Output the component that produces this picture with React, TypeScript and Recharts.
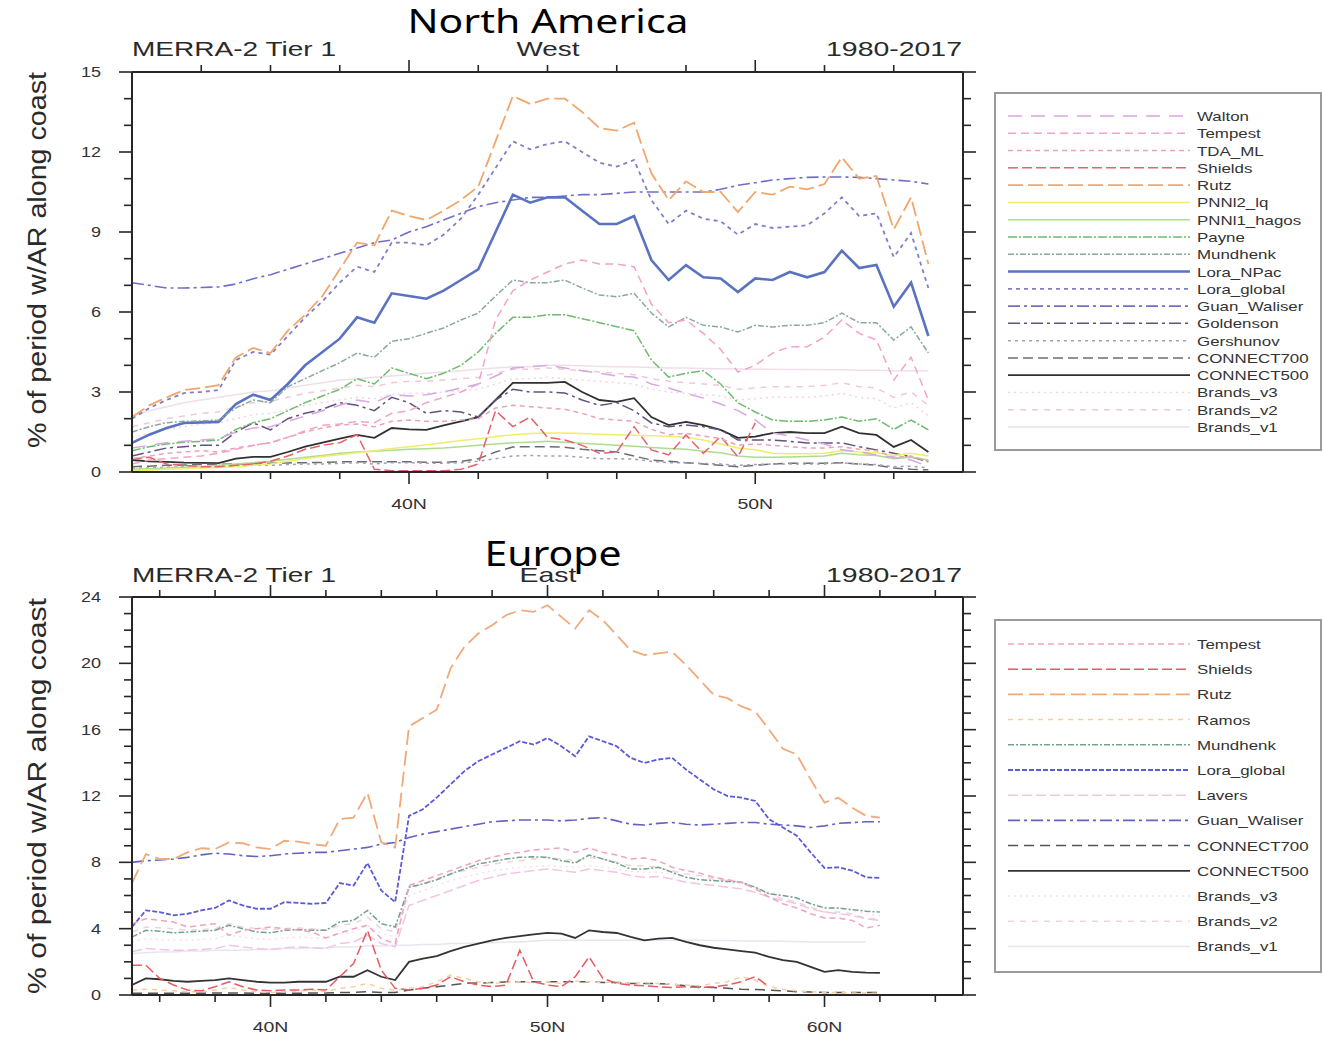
import React from "react";
import { LineChart, Line, XAxis, YAxis } from "recharts";

// North America (west coast): latitude and % of period with an AR, per algorithm
const naLat = [32, 32.5, 33, 33.5, 34, 34.5, 35, 35.5, 36, 36.5, 37, 37.5, 38, 38.5, 39, 39.5, 40, 40.5, 41, 41.5, 42, 42.5, 43, 43.5, 44, 44.5, 45, 45.5, 46, 46.5, 47, 47.5, 48, 48.5, 49, 49.5, 50, 50.5, 51, 51.5, 52, 52.5, 53, 53.5, 54, 54.5, 55];
const naXTicks = [34, 36, 38, 40, 42, 44, 46, 48, 50, 52, 54];
const naYTicks = [0, 1, 2, 3, 4, 5, 6, 7, 8, 9, 10, 11, 12, 13, 14, 15];

const naWalton = [0.9, 1.0, 1.1, 1.15, 1.2, 1.25, 1.5, 1.65, 1.7, 1.9, 2.1, 2.3, 2.5, 2.7, 2.6, 2.9, 2.85, 2.9, 3.0, 3.15, 3.3, 3.6, 3.9, 3.95, 4.0, 3.9, 3.8, 3.7, 3.6, 3.56, 3.3, 3.15, 2.95, 2.77, 2.55, 2.3, 1.95, 1.46, 1.35, 1.2, 1.05, 0.83, 0.75, 0.64, 0.55, 0.45, 0.2];
const naTempest = [0.3, 0.45, 0.5, 0.55, 0.6, 0.7, 0.85, 1.0, 1.1, 1.3, 1.55, 1.75, 1.8, 1.9, 1.85, 2.2, 2.3, 2.6, 2.8, 3.0, 3.3, 5.7, 6.8, 7.2, 7.5, 7.8, 7.95, 7.8, 7.8, 7.7, 6.3, 5.6, 5.7, 5.2, 4.6, 3.75, 4.0, 4.46, 4.7, 4.7, 5.06, 5.7, 5.2, 4.95, 3.45, 4.3, 2.7];
const naTdaMl = [0.5, 0.6, 0.7, 0.75, 0.8, 0.75, 0.9, 1.0, 1.1, 1.3, 1.5, 1.65, 1.76, 1.8, 1.7, 1.9, 1.95, 1.9, 1.9, 1.95, 2.0, 2.4, 2.5, 2.45, 2.4, 2.35, 2.2, 2.0, 1.95, 1.9, 1.6, 1.4, 1.45, 1.35, 1.25, 1.0, 1.05, 1.0, 0.95, 0.9, 0.9, 0.95, 0.85, 0.8, 0.55, 0.6, 0.4];
const naShields = [0.5, 0.55, 0.3, 0.25, 0.2, 0.2, 0.25, 0.3, 0.4, 0.6, 0.85, 1.0, 1.1, 1.4, 0.1, 0.05, 0.05, 0.05, 0.05, 0.1, 0.3, 2.3, 1.7, 2.06, 1.3, 1.2, 1.0, 0.7, 0.75, 1.7, 0.83, 0.64, 1.39, 0.7, 1.33, 0.57, 1.84, null, null, null, null, null, null, null, null, null, null];
const naRutz = [2.06, 2.5, 2.8, 3.07, 3.15, 3.26, 4.3, 4.65, 4.46, 5.3, 5.9, 6.6, 7.6, 8.6, 8.5, 9.8, 9.6, 9.45, 9.8, 10.2, 10.7, 12.4, 14.1, 13.8, 14.0, 14.0, 13.5, 12.9, 12.8, 13.1, 11.2, 10.2, 10.9, 10.5, 10.5, 9.75, 10.5, 10.4, 10.7, 10.6, 10.8, 11.8, 11.0, 11.1, 9.1, 10.3, 7.8];
const naPnnl2 = [0.05, 0.07, 0.1, 0.12, 0.15, 0.17, 0.2, 0.25, 0.3, 0.4, 0.5, 0.58, 0.65, 0.72, 0.8, 0.88, 0.95, 1.02, 1.1, 1.18, 1.25, 1.33, 1.4, 1.44, 1.46, 1.46, 1.44, 1.42, 1.4, 1.38, 1.36, 1.34, 1.3, 1.2, 1.05, 0.9, 0.83, 0.7, 0.68, 0.68, 0.7, 0.8, 0.75, 0.72, 0.62, 0.7, 0.6];
const naPnnl1 = [0.1, 0.12, 0.15, 0.18, 0.2, 0.25, 0.3, 0.35, 0.4, 0.48, 0.55, 0.62, 0.7, 0.75, 0.78, 0.82, 0.85, 0.87, 0.9, 0.95, 1.0, 1.05, 1.1, 1.12, 1.15, 1.12, 1.08, 1.04, 1.0, 0.97, 0.92, 0.88, 0.85, 0.78, 0.72, 0.6, 0.55, 0.55, 0.56, 0.58, 0.6, 0.7, 0.65, 0.62, 0.5, 0.55, 0.45];
const naPayne = [0.8, 0.95, 1.05, 1.12, 1.15, 1.2, 1.6, 1.85, 2.0, 2.3, 2.6, 2.85, 3.1, 3.5, 3.3, 3.9, 3.7, 3.5, 3.7, 4.0, 4.5, 5.2, 5.8, 5.8, 5.9, 5.9, 5.75, 5.6, 5.45, 5.3, 4.2, 3.56, 3.7, 3.8, 3.3, 2.6, 2.25, 1.95, 1.9, 1.9, 1.95, 2.06, 1.9, 2.0, 1.6, 1.95, 1.58];
const naMundhenk = [1.5, 1.7, 1.85, 1.9, 1.92, 1.95, 2.4, 2.7, 2.6, 3.2, 3.5, 3.8, 4.1, 4.46, 4.3, 4.9, 5.0, 5.2, 5.4, 5.7, 5.96, 6.6, 7.2, 7.1, 7.1, 7.2, 6.9, 6.64, 6.57, 6.7, 5.96, 5.44, 5.8, 5.5, 5.44, 5.25, 5.5, 5.44, 5.5, 5.5, 5.6, 5.96, 5.6, 5.6, 4.95, 5.44, 4.46];
const naLoraNPac = [1.09, 1.4, 1.65, 1.84, 1.86, 1.88, 2.55, 2.9, 2.7, 3.3, 4.0, 4.5, 5.0, 5.8, 5.6, 6.7, 6.6, 6.5, 6.8, 7.2, 7.6, 9.0, 10.4, 10.1, 10.3, 10.3, 9.8, 9.3, 9.3, 9.6, 7.95, 7.2, 7.76, 7.3, 7.26, 6.75, 7.26, 7.2, 7.5, 7.3, 7.5, 8.3, 7.65, 7.76, 6.2, 7.1, 5.1];
const naLoraGlobal = [2.0, 2.4, 2.7, 2.96, 3.0, 3.07, 4.2, 4.5, 4.4, 5.1, 5.8, 6.4, 7.1, 7.7, 7.5, 8.6, 8.6, 8.5, 8.9, 9.5, 10.4, 11.4, 12.4, 12.1, 12.3, 12.4, 12.0, 11.6, 11.45, 11.7, 10.2, 9.3, 9.8, 9.5, 9.4, 8.9, 9.3, 9.15, 9.2, 9.25, 9.7, 10.3, 9.6, 9.7, 8.06, 8.96, 6.9];
const naGuanWaliser = [7.1, 7.0, 6.9, 6.9, 6.92, 6.94, 7.05, 7.25, 7.4, 7.6, 7.8, 8.0, 8.2, 8.4, 8.6, 8.7, 9.0, 9.2, 9.45, 9.7, 9.95, 10.1, 10.2, 10.3, 10.3, 10.35, 10.4, 10.4, 10.45, 10.5, 10.5, 10.5, 10.5, 10.5, 10.6, 10.75, 10.85, 10.95, 11.0, 11.05, 11.06, 11.06, 11.05, 11.0, 10.95, 10.9, 10.8];
const naGoldenson = [0.6, 0.75, 0.9, 0.95, 1.0, 1.0, 1.5, 1.84, 1.58, 2.0, 2.2, 2.35, 2.6, 2.5, 2.3, 2.8, 2.6, 2.2, 2.3, 2.25, 2.06, 2.7, 3.1, 3.0, 3.0, 2.96, 2.7, 2.5, 2.6, 2.3, 1.84, 1.7, 1.76, 1.7, 1.58, 1.2, 1.2, 1.2, 1.15, 1.09, 1.09, 1.09, 0.95, 0.83, 0.7, 0.57, 0.38];
const naGershunov = [0.15, 0.15, 0.18, 0.2, 0.2, 0.2, 0.22, 0.25, 0.25, 0.28, 0.3, 0.3, 0.32, 0.35, 0.3, 0.35, 0.35, 0.33, 0.33, 0.35, 0.4, 0.5, 0.6, 0.62, 0.6, 0.6, 0.55, 0.5, 0.5, 0.48, 0.4, 0.35, 0.35, 0.32, 0.3, 0.25, 0.28, 0.3, 0.3, 0.3, 0.3, 0.35, 0.3, 0.28, 0.2, 0.22, 0.15];
const naConnect700 = [0.2, 0.22, 0.25, 0.26, 0.28, 0.29, 0.3, 0.31, 0.33, 0.34, 0.35, 0.36, 0.38, 0.38, 0.38, 0.38, 0.38, 0.37, 0.36, 0.4, 0.5, 0.75, 0.94, 0.95, 0.95, 0.93, 0.85, 0.8, 0.75, 0.6, 0.45, 0.4, 0.35, 0.3, 0.25, 0.2, 0.25, 0.3, 0.33, 0.33, 0.33, 0.35, 0.3, 0.25, 0.15, 0.1, 0.08];
const naConnect500 = [0.45, 0.4, 0.38, 0.35, 0.34, 0.33, 0.5, 0.57, 0.57, 0.75, 0.95, 1.1, 1.25, 1.39, 1.28, 1.65, 1.6, 1.58, 1.75, 1.9, 2.06, 2.7, 3.34, 3.34, 3.34, 3.38, 3.0, 2.7, 2.63, 2.77, 2.06, 1.76, 1.88, 1.76, 1.58, 1.28, 1.33, 1.46, 1.5, 1.46, 1.46, 1.7, 1.46, 1.39, 0.94, 1.2, 0.75];
const naBrandsV3 = [1.3, 1.45, 1.6, 1.7, 1.8, 1.85, 2.0, 2.15, 2.2, 2.35, 2.5, 2.6, 2.7, 2.8, 2.75, 2.9, 2.95, 2.95, 3.0, 3.05, 3.1, 3.3, 3.5, 3.5, 3.55, 3.5, 3.45, 3.4, 3.35, 3.3, 3.1, 3.0, 2.95, 2.9, 2.85, 2.7, 2.75, 2.8, 2.8, 2.8, 2.85, 2.95, 2.8, 2.75, 2.4, 2.6, 2.1];
const naBrandsV2 = [1.7, 1.85, 2.0, 2.1, 2.2, 2.25, 2.45, 2.6, 2.65, 2.8, 2.95, 3.05, 3.15, 3.25, 3.2, 3.35, 3.4, 3.4, 3.45, 3.5, 3.55, 3.7, 3.85, 3.85, 3.9, 3.85, 3.8, 3.75, 3.7, 3.65, 3.5, 3.4, 3.35, 3.3, 3.25, 3.1, 3.15, 3.2, 3.2, 3.2, 3.25, 3.35, 3.2, 3.15, 2.8, 3.0, 2.5];
const naBrandsV1 = [2.1, 2.3, 2.45, 2.6, 2.7, 2.8, 2.9, 3.0, 3.05, 3.15, 3.25, 3.35, 3.45, 3.5, 3.55, 3.6, 3.65, 3.7, 3.75, 3.8, 3.85, 3.9, 3.95, 3.95, 4.0, 4.0, 3.98, 3.96, 3.95, 3.94, 3.92, 3.9, 3.9, 3.88, 3.87, 3.86, 3.85, 3.85, 3.84, 3.84, 3.83, 3.83, 3.82, 3.82, 3.8, 3.8, 3.8];

// Europe (east side of the Atlantic)
const euLat = [35, 35.5, 36, 36.5, 37, 37.5, 38, 38.5, 39, 39.5, 40, 40.5, 41, 41.5, 42, 42.5, 43, 43.5, 44, 44.5, 45, 45.5, 46, 46.5, 47, 47.5, 48, 48.5, 49, 49.5, 50, 50.5, 51, 51.5, 52, 52.5, 53, 53.5, 54, 54.5, 55, 55.5, 56, 56.5, 57, 57.5, 58, 58.5, 59, 59.5, 60, 60.5, 61, 61.5, 62];
const euXTicks = [36, 38, 40, 42, 44, 46, 48, 50, 52, 54, 56, 58, 60, 62, 64];
const euYTicks = [0, 1, 2, 3, 4, 5, 6, 7, 8, 9, 10, 11, 12, 13, 14, 15, 16, 17, 18, 19, 20, 21, 22, 23, 24];

const euTempest = [4.3, 4.6, 4.5, 4.4, 4.1, 4.2, 4.3, 3.6, 3.9, 4.0, 4.1, 4.0, 3.9, 3.8, 3.44, 3.74, 4.0, 4.2, 3.4, 3.1, 6.6, 6.9, 7.2, 7.5, 7.8, 8.1, 8.3, 8.5, 8.6, 8.75, 8.8, 8.87, 8.6, 8.87, 8.6, 8.44, 8.2, 8.26, 8.1, 7.7, 7.5, 7.35, 7.1, 6.95, 6.8, 6.4, 5.9, 5.5, 5.25, 4.9, 4.64, 4.64, 4.5, 4.04, 4.2];
const euShields = [1.8, 1.8, 1.0, 0.6, 0.3, 0.25, 0.5, 0.8, 0.5, 0.3, 0.25, 0.3, 0.3, 0.35, 0.3, 1.1, 1.9, 3.9, 1.5, 0.4, 0.3, 0.4, 0.6, 1.1, 0.8, 0.6, 0.5, 0.6, 2.7, 0.8, 0.6, 0.5, 1.1, 2.3, 1.0, 0.7, 0.6, 0.55, 0.5, 0.45, 0.5, 0.45, 0.5, 0.6, 0.8, 1.1, 0.5, null, null, null, null, null, null, null, null];
const euRutz = [6.75, 8.5, 8.2, 8.2, 8.6, 8.85, 8.8, 9.2, 9.15, 8.9, 8.8, 9.3, 9.25, 9.1, 9.0, 10.6, 10.7, 12.2, 9.2, 8.9, 16.2, 16.7, 17.2, 19.7, 21.0, 21.8, 22.3, 22.9, 23.2, 23.1, 23.5, 22.8, 22.1, 23.2, 22.6, 21.7, 20.8, 20.5, 20.6, 20.7, 19.9, 19.0, 18.1, 17.9, 17.4, 17.1, 16.0, 14.85, 14.5, 13.0, 11.6, 11.9, 11.3, 10.8, 10.7];
const euRamos = [0.3, 0.35, 0.3, 0.25, 0.2, 0.2, 0.3, 0.45, 0.3, 0.2, 0.15, 0.2, 0.25, 0.3, 0.2, 0.4, 0.5, 0.7, 0.4, 0.3, 0.4, 0.5, 0.8, 1.2, 1.0, 0.8, 0.7, 0.75, 0.8, 0.75, 0.8, 0.7, 0.85, 0.8, 0.75, 0.8, 0.7, 0.75, 0.7, 0.65, 0.6, 0.55, 0.7, 0.8, 1.1, 0.9, 0.5, 0.35, 0.25, 0.2, 0.15, 0.15, 0.12, 0.12, 0.1];
const euMundhenk = [3.5, 3.9, 3.85, 3.75, 3.8, 3.85, 3.9, 4.2, 4.0, 3.8, 3.75, 3.9, 3.95, 3.9, 3.9, 4.4, 4.5, 5.1, 4.3, 4.1, 6.5, 6.7, 6.95, 7.3, 7.6, 7.9, 8.05, 8.2, 8.3, 8.33, 8.3, 8.1, 7.96, 8.44, 8.2, 7.95, 7.6, 7.6, 7.7, 7.4, 7.1, 6.95, 6.9, 6.85, 6.8, 6.5, 6.1, 6.0, 5.85, 5.5, 5.25, 5.25, 5.15, 5.05, 5.0];
const euLoraGlobal = [4.1, 5.1, 5.0, 4.8, 4.9, 5.1, 5.25, 5.7, 5.4, 5.2, 5.2, 5.6, 5.55, 5.5, 5.55, 6.75, 6.6, 7.96, 6.3, 5.6, 10.8, 11.2, 11.9, 12.7, 13.5, 14.1, 14.5, 14.9, 15.3, 15.1, 15.5, 15.0, 14.4, 15.6, 15.3, 15.0, 14.3, 14.0, 14.2, 14.3, 13.6, 13.0, 12.4, 12.0, 11.9, 11.7, 10.6, 10.1, 9.6, 8.6, 7.66, 7.7, 7.5, 7.1, 7.06];
const euLavers = [2.6, 2.8, 2.75, 2.7, 2.7, 2.75, 2.8, 3.0, 2.9, 2.8, 2.75, 2.85, 2.9, 2.85, 2.8, 3.1, 3.2, 3.6, 3.1, 2.9, 5.4, 5.7, 6.0, 6.3, 6.6, 6.9, 7.1, 7.3, 7.4, 7.5, 7.6, 7.5, 7.4, 7.6, 7.5, 7.4, 7.2, 7.1, 7.15, 7.0, 6.8, 6.7, 6.6, 6.5, 6.4, 6.2, 5.9, 5.7, 5.5, 5.2, 5.0, 4.9, 4.8, 4.6, 4.5];
const euGuanWaliser = [8.0, 8.1, 8.14, 8.2, 8.3, 8.45, 8.55, 8.5, 8.4, 8.35, 8.4, 8.5, 8.55, 8.6, 8.6, 8.7, 8.8, 8.9, 9.1, 9.2, 9.5, 9.7, 9.85, 10.0, 10.15, 10.3, 10.45, 10.5, 10.55, 10.55, 10.55, 10.5, 10.55, 10.65, 10.7, 10.5, 10.3, 10.25, 10.35, 10.4, 10.3, 10.25, 10.3, 10.35, 10.4, 10.4, 10.3, 10.25, 10.2, 10.1, 10.2, 10.35, 10.4, 10.45, 10.45];
const euConnect700 = [0.1, 0.1, 0.1, 0.1, 0.1, 0.1, 0.12, 0.12, 0.12, 0.1, 0.1, 0.1, 0.1, 0.12, 0.12, 0.15, 0.15, 0.2, 0.15, 0.15, 0.3, 0.4, 0.5, 0.6, 0.7, 0.72, 0.75, 0.78, 0.8, 0.8, 0.8, 0.8, 0.8, 0.8, 0.75, 0.75, 0.7, 0.7, 0.68, 0.65, 0.55, 0.5, 0.45, 0.4, 0.35, 0.33, 0.3, 0.25, 0.2, 0.18, 0.15, 0.15, 0.15, 0.15, 0.15];
const euConnect500 = [0.6, 1.0, 0.95, 0.85, 0.8, 0.85, 0.9, 1.0, 0.9, 0.8, 0.75, 0.75, 0.8, 0.8, 0.8, 1.1, 1.1, 1.5, 1.1, 0.9, 2.0, 2.2, 2.35, 2.65, 2.9, 3.1, 3.3, 3.45, 3.55, 3.65, 3.75, 3.7, 3.44, 3.9, 3.8, 3.74, 3.5, 3.3, 3.4, 3.44, 3.2, 3.0, 2.85, 2.75, 2.65, 2.55, 2.3, 2.1, 2.0, 1.7, 1.4, 1.5, 1.4, 1.35, 1.33];
const euBrandsV3 = [3.2, 3.4, 3.35, 3.3, 3.3, 3.35, 3.4, 3.6, 3.5, 3.4, 3.35, 3.45, 3.5, 3.45, 3.4, 3.7, 3.8, 4.2, 3.7, 3.5, 6.0, 6.3, 6.6, 6.9, 7.1, 7.3, 7.5, 7.6, 7.7, 7.75, 7.8, 7.75, 7.7, 7.8, 7.7, 7.6, 7.45, 7.4, 7.4, 7.3, 7.1, 7.0, 6.9, 6.8, 6.7, 6.5, 6.2, 6.0, 5.8, 5.5, 5.3, 5.2, 5.1, 4.9, 4.8];
const euBrandsV2 = [3.8, 4.1, 4.05, 4.0, 3.9, 3.95, 4.0, 4.3, 4.1, 4.0, 3.95, 4.0, 4.05, 4.0, 3.9, 4.2, 4.3, 4.7, 4.0, 3.8, 6.4, 6.7, 7.0, 7.3, 7.5, 7.7, 7.9, 8.0, 8.1, 8.2, 8.3, 8.2, 8.1, 8.3, 8.2, 8.0, 7.8, 7.8, 7.7, 7.5, 7.3, 7.2, 7.0, 6.9, 6.8, 6.5, 6.1, 5.8, 5.6, 5.3, 5.0, 5.0, 4.9, 4.6, 4.6];
const euBrandsV1 = [2.5, 2.55, 2.6, 2.6, 2.65, 2.65, 2.7, 2.7, 2.7, 2.75, 2.75, 2.8, 2.8, 2.85, 2.85, 2.9, 2.9, 2.95, 2.95, 3.0, 3.0, 3.05, 3.05, 3.1, 3.1, 3.15, 3.15, 3.2, 3.2, 3.25, 3.3, 3.3, 3.3, 3.3, 3.3, 3.3, 3.3, 3.3, 3.3, 3.3, 3.3, 3.3, 3.28, 3.28, 3.26, 3.25, 3.25, 3.24, 3.22, 3.2, 3.2, 3.2, 3.2, 3.2, null];

type Series = {
  name: string;
  values: (number | null)[];
  color: string;
  dash?: string;
  width?: number;
};

const naSeries: Series[] = [
  { name: "Walton", values: naWalton, color: "#d7a7e2", dash: "14 9" },
  { name: "Tempest", values: naTempest, color: "#f3a3c6", dash: "8 5" },
  { name: "TDA_ML", values: naTdaMl, color: "#e9a3b9", dash: "5 4" },
  { name: "Shields", values: naShields, color: "#e8606a", dash: "10 4" },
  { name: "Rutz", values: naRutz, color: "#f2a66c", dash: "15 5", width: 1.8 },
  { name: "PNNl2_lq", values: naPnnl2, color: "#eeee6a" },
  { name: "PNNl1_hagos", values: naPnnl1, color: "#aedc8e" },
  { name: "Payne", values: naPayne, color: "#6cbc6c", dash: "9 2 2 2" },
  { name: "Mundhenk", values: naMundhenk, color: "#8aa8a2", dash: "6 2 2 2" },
  { name: "Lora_NPac", values: naLoraNPac, color: "#5a72c2", width: 2.6 },
  { name: "Lora_global", values: naLoraGlobal, color: "#7f7fc8", dash: "4 4", width: 1.8 },
  { name: "Guan_Waliser", values: naGuanWaliser, color: "#6f6fc6", dash: "12 4 3 4", width: 1.6 },
  { name: "Goldenson", values: naGoldenson, color: "#64527e", dash: "12 4 3 4" },
  { name: "Gershunov", values: naGershunov, color: "#a0a0b6", dash: "3 4" },
  { name: "CONNECT700", values: naConnect700, color: "#6c6c74", dash: "10 5" },
  { name: "CONNECT500", values: naConnect500, color: "#303030", width: 1.8 },
  { name: "Brands_v3", values: naBrandsV3, color: "#f4d2de", dash: "2 4" },
  { name: "Brands_v2", values: naBrandsV2, color: "#f1c9d6", dash: "6 6" },
  { name: "Brands_v1", values: naBrandsV1, color: "#efdfe9" },
];

const euSeries: Series[] = [
  { name: "Tempest", values: euTempest, color: "#f0a2c2", dash: "6 4" },
  { name: "Shields", values: euShields, color: "#e85a62", dash: "10 4" },
  { name: "Rutz", values: euRutz, color: "#f0aa7a", dash: "15 6", width: 1.8 },
  { name: "Ramos", values: euRamos, color: "#f6cf9e", dash: "5 5" },
  { name: "Mundhenk", values: euMundhenk, color: "#72a48c", dash: "6 2 2 2" },
  { name: "Lora_global", values: euLoraGlobal, color: "#5a5ad6", dash: "5 2", width: 1.8 },
  { name: "Lavers", values: euLavers, color: "#f2c4e2", dash: "10 4" },
  { name: "Guan_Waliser", values: euGuanWaliser, color: "#6262c2", dash: "12 4 3 4", width: 1.6 },
  { name: "CONNECT700", values: euConnect700, color: "#55555c", dash: "10 6" },
  { name: "CONNECT500", values: euConnect500, color: "#333333", width: 1.8 },
  { name: "Brands_v3", values: euBrandsV3, color: "#f7e0e8", dash: "2 4" },
  { name: "Brands_v2", values: euBrandsV2, color: "#f4d2dd", dash: "6 6" },
  { name: "Brands_v1", values: euBrandsV1, color: "#e6e6ef" },
];

function toRows(lat: number[], series: Series[]) {
  return lat.map((v, i) => {
    const row: Record<string, number | null> = { lat: v };
    series.forEach((s) => {
      row[s.name] = s.values[i] ?? null;
    });
    return row;
  });
}

const AXIS = "#262626";
const FONT = "'Liberation Sans', Arial, Helvetica, sans-serif";

// tick marks are drawn by hand so majors can be longer than minors
function XTick(props: any) {
  const { x, y, payload, side, showLabel } = props;
  const v = payload.value as number;
  const major = v % 10 === 0;
  const len = major ? 12 : 7;
  const dir = side === "bottom" ? 1 : -1;
  return (
    <g>
      <line x1={x} x2={x} y1={y} y2={y + dir * len} stroke={AXIS} strokeWidth={1.6} />
      {showLabel && major && (
        <text
          transform={`translate(${x},${y + 37}) scale(1.3,1)`}
          textAnchor="middle"
          fontSize={15}
          fontFamily={FONT}
          fill="#333"
        >
          {`${v}N`}
        </text>
      )}
    </g>
  );
}

function YTick(props: any) {
  const { x, y, payload, side, majorEvery, showLabel } = props;
  const v = payload.value as number;
  const major = v % majorEvery === 0;
  const len = major ? 13 : 8;
  const dir = side === "left" ? -1 : 1;
  return (
    <g>
      <line x1={x} x2={x + dir * len} y1={y} y2={y} stroke={AXIS} strokeWidth={1.6} />
      {showLabel && major && (
        <text
          transform={`translate(${x - 31},${y + 5}) scale(1.2,1)`}
          textAnchor="end"
          fontSize={15}
          fontFamily={FONT}
          fill="#333"
        >
          {v}
        </text>
      )}
    </g>
  );
}

type PanelProps = {
  top: number;
  lat: number[];
  series: Series[];
  xDomain: [number, number];
  xTicks: number[];
  yMax: number;
  yTicks: number[];
  yMajor: number;
  plotTop: number;
  plotBottom: number;
};

const CHART_W = 990;
const CHART_H = 530;
const LEFT_W = 50;
const RIGHT_W = 20;
const TOP_H = 20;
const BOTTOM_H = 45;

function Panel({ top, lat, series, xDomain, xTicks, yMax, yTicks, yMajor, plotTop, plotBottom }: PanelProps) {
  const rows = toRows(lat, series);
  const axisLine = { stroke: AXIS, strokeWidth: 2 };
  const margin = {
    top: plotTop - TOP_H,
    right: CHART_W - 963 - RIGHT_W,
    bottom: CHART_H - plotBottom - BOTTOM_H,
    left: 132 - LEFT_W,
  };
  return (
    <div style={{ position: "absolute", left: 0, top }}>
      <LineChart width={CHART_W} height={CHART_H} data={rows} margin={margin}>
        <XAxis
          xAxisId="b"
          dataKey="lat"
          type="number"
          domain={xDomain}
          allowDataOverflow
          ticks={xTicks}
          interval={0}
          height={BOTTOM_H}
          tickSize={0}
          tickMargin={0}
          tickLine={false}
          axisLine={axisLine}
          tick={(p: any) => <XTick {...p} side="bottom" showLabel />}
        />
        <XAxis
          xAxisId="t"
          orientation="top"
          dataKey="lat"
          type="number"
          domain={xDomain}
          allowDataOverflow
          ticks={xTicks}
          interval={0}
          height={TOP_H}
          tickSize={0}
          tickMargin={0}
          tickLine={false}
          axisLine={axisLine}
          tick={(p: any) => <XTick {...p} side="top" showLabel={false} />}
        />
        <YAxis
          yAxisId="l"
          type="number"
          domain={[0, yMax]}
          allowDataOverflow
          ticks={yTicks}
          interval={0}
          width={LEFT_W}
          tickSize={0}
          tickMargin={0}
          tickLine={false}
          axisLine={axisLine}
          tick={(p: any) => <YTick {...p} side="left" majorEvery={yMajor} showLabel />}
        />
        <YAxis
          yAxisId="r"
          orientation="right"
          type="number"
          domain={[0, yMax]}
          allowDataOverflow
          ticks={yTicks}
          interval={0}
          width={RIGHT_W}
          tickSize={0}
          tickMargin={0}
          tickLine={false}
          axisLine={axisLine}
          tick={(p: any) => <YTick {...p} side="right" majorEvery={yMajor} showLabel={false} />}
        />
        {[...series].reverse().map((s) => (
          <Line
            key={s.name}
            xAxisId="b"
            yAxisId="l"
            type="linear"
            dataKey={s.name}
            stroke={s.color}
            strokeWidth={s.width ?? 1.5}
            strokeDasharray={s.dash}
            dot={false}
            activeDot={false}
            isAnimationActive={false}
          />
        ))}
      </LineChart>
    </div>
  );
}

function LegendBox({ series, x, y, w, h, firstRow, step }: { series: Series[]; x: number; y: number; w: number; h: number; firstRow: number; step: number }) {
  return (
    <g>
      <rect x={x} y={y} width={w} height={h} fill="#fff" stroke="#9a9a9a" strokeWidth={2} />
      {series.map((s, i) => {
        const ry = firstRow + i * step;
        return (
          <g key={s.name}>
            <line x1={x + 13} x2={x + 195} y1={ry} y2={ry} stroke={s.color} strokeWidth={s.width ?? 1.5} strokeDasharray={s.dash} />
            <text
              transform={`translate(${x + 202},${ry + 5}) scale(1.3,1)`}
              fontSize={13}
              fontFamily={FONT}
              fill="#333"
            >
              {s.name}
            </text>
          </g>
        );
      })}
    </g>
  );
}

export default function App() {
  return (
    <div
      style={{
        position: "absolute",
        left: 0,
        top: 0,
        width: 1322,
        height: 1037,
        background: "#fff",
        overflow: "hidden",
      }}
    >
      <Panel
        top={0}
        lat={naLat}
        series={naSeries}
        xDomain={[32, 56]}
        xTicks={naXTicks}
        yMax={15}
        yTicks={naYTicks}
        yMajor={3}
        plotTop={72}
        plotBottom={472}
      />
      <Panel
        top={525}
        lat={euLat}
        series={euSeries}
        xDomain={[35, 65]}
        xTicks={euXTicks}
        yMax={24}
        yTicks={euYTicks}
        yMajor={4}
        plotTop={72}
        plotBottom={470}
      />
      <svg
        width={1322}
        height={1037}
        style={{ position: "absolute", left: 0, top: 0, pointerEvents: "none" }}
      >
        <text
          x={548}
          y={33}
          textAnchor="middle"
          fontSize={32}
          fontFamily="'Noto Sans', 'Open Sans', sans-serif"
          textLength={281}
          lengthAdjust="spacingAndGlyphs"
          fill="#000"
        >
          North America
        </text>

        <g fontFamily={FONT} fill="#2a2a2a" fontSize={21}>
          <text x={132} y={56} textLength={204} lengthAdjust="spacingAndGlyphs">MERRA-2 Tier 1</text>
          <text x={548} y={56} textAnchor="middle" textLength={63} lengthAdjust="spacingAndGlyphs">West</text>
          <text x={962} y={56} textAnchor="end" textLength={136} lengthAdjust="spacingAndGlyphs">1980-2017</text>
          <text x={132} y={582} textLength={204} lengthAdjust="spacingAndGlyphs">MERRA-2 Tier 1</text>
          <text x={548} y={582} textAnchor="middle" textLength={57} lengthAdjust="spacingAndGlyphs">East</text>
          <text x={962} y={582} textAnchor="end" textLength={136} lengthAdjust="spacingAndGlyphs">1980-2017</text>
        </g>

        <text
          x={553}
          y={566}
          textAnchor="middle"
          fontSize={35}
          fontFamily="'Noto Sans', 'Open Sans', sans-serif"
          textLength={137}
          lengthAdjust="spacingAndGlyphs"
          fill="#000"
        >
          Europe
        </text>

        <g fontFamily={FONT} fill="#2a2a2a" fontSize={26}>
          <text
            transform="translate(46,260) rotate(-90)"
            textAnchor="middle"
            textLength={376}
            lengthAdjust="spacingAndGlyphs"
          >
            % of period w/AR along coast
          </text>
          <text
            transform="translate(46,796) rotate(-90)"
            textAnchor="middle"
            textLength={396}
            lengthAdjust="spacingAndGlyphs"
          >
            % of period w/AR along coast
          </text>
        </g>

        <LegendBox series={naSeries} x={995} y={93} w={326} h={357} firstRow={116} step={17.28} />
        <LegendBox series={euSeries} x={995} y={620} w={326} h={352} firstRow={644} step={25.2} />
      </svg>
    </div>
  );
}
